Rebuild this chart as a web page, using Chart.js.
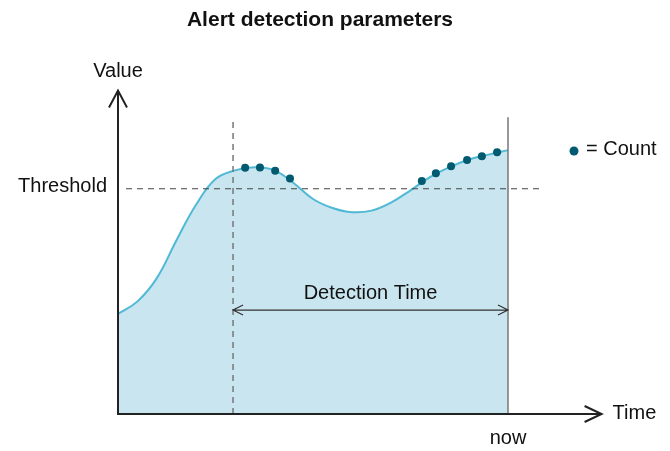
<!DOCTYPE html>
<html>
<head>
<meta charset="utf-8">
<script src="https://cdn.jsdelivr.net/npm/chart.js@4.4.1/dist/chart.umd.min.js"></script>
<style>
  html, body { margin: 0; padding: 0; background: #fff; }
  #wrap { width: 670px; height: 451px; }
</style>
</head>
<body>
<div id="wrap"><canvas id="alertChart" width="670" height="451"></canvas></div>
<script>
// time runs 0..100, where 100 is "now"
const timeSteps = [0, 5, 10, 15, 20, 25, 30, 35, 40, 45, 50, 55, 60, 65, 70, 75, 80, 85, 90, 95, 100];
const values = [31.1, 35.0, 42.3, 54.0, 65.0, 73.0, 75.7, 76.7, 75.8, 71.8, 66.8, 64.0, 62.7, 63.2,
                65.7, 69.5, 73.6, 76.7, 79.1, 80.6, 82.0];

// samples counted above the threshold
const countTimes = [32.6, 36.4, 40.3, 44.1, 77.9, 81.5, 85.4, 89.5, 93.3, 97.2];
const countValues = [76.5, 76.6, 75.6, 73.2, 72.4, 74.8, 77.0, 78.9, 80.1, 81.3];

const threshold = 70;
const detectionStart = 29.5;
const nowTime = 100;

const FONT = "'Liberation Sans', Arial, Helvetica, sans-serif";

const overlay = {
    id: 'overlay',
    afterDatasetsDraw(chart) {
        const { ctx, scales: { x, y } } = chart;
        const x0 = x.getPixelForValue(0);
        const y0 = y.getPixelForValue(0);
        ctx.save();

        // vertical marker at start of detection window
        const sx = x.getPixelForValue(detectionStart);
        ctx.strokeStyle = '#777';
        ctx.lineWidth = 1.5;
        ctx.setLineDash([6, 5]);
        ctx.beginPath();
        ctx.moveTo(sx, y0);
        ctx.lineTo(sx, y.getPixelForValue(91.3));
        ctx.stroke();

        // threshold line
        const ty = y.getPixelForValue(threshold);
        ctx.strokeStyle = '#444';
        ctx.lineWidth = 1.2;
        ctx.setLineDash([6, 5]);
        ctx.beginPath();
        ctx.moveTo(x0 + 8, ty);
        ctx.lineTo(x.getPixelForValue(109), ty);
        ctx.stroke();
        ctx.setLineDash([]);

        // "now" line
        const nx = x.getPixelForValue(nowTime);
        ctx.strokeStyle = '#777';
        ctx.lineWidth = 1.5;
        ctx.beginPath();
        ctx.moveTo(nx, y0);
        ctx.lineTo(nx, y.getPixelForValue(92.2));
        ctx.stroke();

        // detection time arrow
        const ay = y.getPixelForValue(32.3);
        ctx.strokeStyle = '#333';
        ctx.lineWidth = 1.2;
        ctx.beginPath();
        ctx.moveTo(sx, ay); ctx.lineTo(nx, ay);
        ctx.moveTo(sx + 10, ay - 5); ctx.lineTo(sx, ay); ctx.lineTo(sx + 10, ay + 5);
        ctx.moveTo(nx - 10, ay - 5); ctx.lineTo(nx, ay); ctx.lineTo(nx - 10, ay + 5);
        ctx.stroke();

        // axes with open arrow heads
        const top = y.getPixelForValue(100.5);
        const right = x.getPixelForValue(124);
        ctx.strokeStyle = '#222';
        ctx.lineWidth = 2;
        ctx.beginPath();
        ctx.moveTo(x0, y0); ctx.lineTo(x0, top);
        ctx.moveTo(x0 - 9, top + 17); ctx.lineTo(x0, top); ctx.lineTo(x0 + 9, top + 17);
        ctx.moveTo(x0 - 1, y0); ctx.lineTo(right, y0);
        ctx.moveTo(right - 17, y0 - 8); ctx.lineTo(right, y0); ctx.lineTo(right - 17, y0 + 8);
        ctx.stroke();

        // texts
        ctx.fillStyle = '#111';
        ctx.font = 'bold 21px ' + FONT;
        ctx.textAlign = 'center';
        ctx.textBaseline = 'middle';
        ctx.fillText('Alert detection parameters', 320, 20);

        ctx.font = '20px ' + FONT;
        ctx.fillText('Value', x0, top - 19);
        ctx.fillText('now', nx, y0 + 24);
        ctx.fillText('Detection Time', (sx + nx) / 2, ay - 17);
        ctx.textAlign = 'right';
        ctx.fillText('Threshold', x0 - 11, ty - 2);
        ctx.textAlign = 'left';
        ctx.fillText('Time', right + 11, y0 - 1);

        // legend for count markers
        ctx.fillStyle = '#005b70';
        ctx.beginPath();
        ctx.arc(574, 151, 4.5, 0, Math.PI * 2);
        ctx.fill();
        ctx.fillStyle = '#111';
        ctx.fillText('= Count', 586, 149);

        ctx.restore();
    }
};

const ctx = document.getElementById('alertChart').getContext('2d');
new Chart(ctx, {
    type: 'line',
    data: {
        datasets: [
            {
                label: 'Count',
                data: countTimes.map((t, i) => ({ x: t, y: countValues[i] })),
                showLine: false,
                pointRadius: 4,
                pointBackgroundColor: '#005b70',
                pointBorderWidth: 0,
                order: 0
            },
            {
                label: 'Value',
                data: timeSteps.map((t, i) => ({ x: t, y: values[i] })),
                borderColor: '#4fb9d6',
                borderWidth: 2,
                backgroundColor: '#c9e5ef',
                fill: 'origin',
                tension: 0.4,
                pointRadius: 0,
                order: 1
            }
        ]
    },
    options: {
        responsive: false,
        animation: false,
        layout: { padding: { left: 118, right: 45, top: 60, bottom: 37 } },
        scales: {
            x: { type: 'linear', min: 0, max: 130, display: false },
            y: { min: 0, max: 110, display: false }
        },
        plugins: {
            legend: { display: false },
            title: { display: false },
            tooltip: { enabled: false }
        }
    },
    plugins: [overlay]
});
</script>
</body>
</html>
